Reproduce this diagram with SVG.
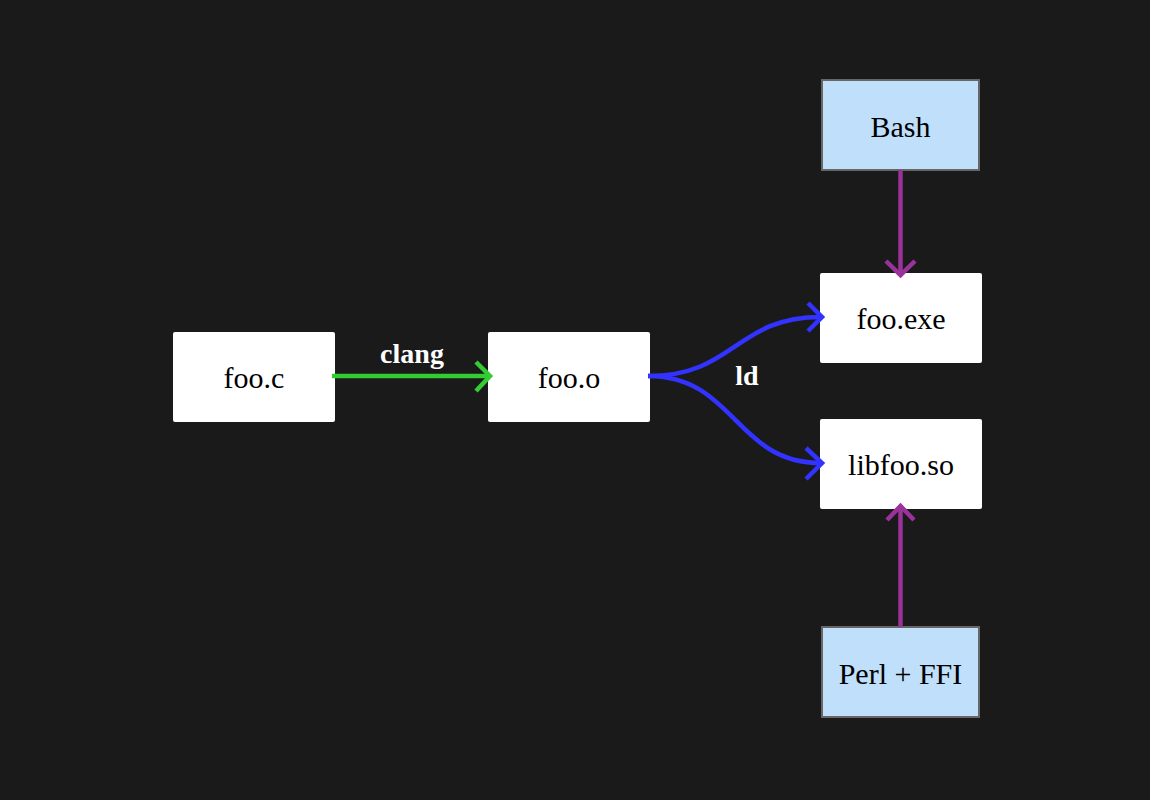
<svg xmlns="http://www.w3.org/2000/svg" width="1150" height="800" viewBox="0 0 1150 800">
<style>
.node{fill:#ffffff}
.ext{fill:#bfdffb;stroke:#666666;stroke-width:2}
.lbl{font-family:"Liberation Serif","DejaVu Serif",serif;font-size:30px;fill:#000;text-anchor:middle;dominant-baseline:central}
.elbl{font-family:"Liberation Serif","DejaVu Serif",serif;font-size:28px;font-weight:bold;fill:#ffffff;text-anchor:middle;dominant-baseline:central}
.e{fill:none;stroke-width:4.5}
.head{fill:none;stroke-width:4.5;stroke-linecap:butt;stroke-linejoin:miter}
</style>
<rect width="1150" height="800" fill="#1a1a1a"/>
<g id="foo_c"><rect class="node" x="173" y="332" width="162" height="90" rx="2"/><text class="lbl" x="254" y="377">foo.c</text></g>
<g id="foo_o"><rect class="node" x="488" y="332" width="162" height="90" rx="2"/><text class="lbl" x="569" y="377">foo.o</text></g>
<g id="foo_exe"><rect class="node" x="820" y="273" width="162" height="90" rx="2"/><text class="lbl" x="901" y="318">foo.exe</text></g>
<g id="libfoo_so"><rect class="node" x="820" y="419" width="162" height="90" rx="2"/><text class="lbl" x="901" y="464">libfoo.so</text></g>
<g id="bash"><rect class="ext" x="822" y="80" width="157" height="90"/><text class="lbl" x="900.5" y="126">Bash</text></g>
<g id="perl"><rect class="ext" x="822" y="627" width="157" height="90"/><text class="lbl" x="900.5" y="673">Perl + FFI</text></g>
<g id="connectors">
<path class="e" stroke="#33cc33" d="M332,376 H490"/>
<path class="head" stroke="#33cc33" d="M476,362 L490,376 L476,391"/>
<text class="elbl" x="412" y="353">clang</text>
<path class="e" stroke="#3333ff" d="M648,376 C735,376 735,317 821,317"/>
<path class="head" stroke="#3333ff" d="M808,303 L822,317 L808,331"/>
<path class="e" stroke="#3333ff" d="M648,376 C735,376 735,463 821,463"/>
<path class="head" stroke="#3333ff" d="M806,448 L822,463 L806,479"/>
<text class="elbl" x="747" y="375">ld</text>
<path class="e" stroke="#993399" d="M900.5,170 V274"/>
<path class="head" stroke="#993399" d="M886,261 L900.5,275 L915,261"/>
<path class="e" stroke="#993399" d="M900.5,627 V507"/>
<path class="head" stroke="#993399" d="M887,520 L900.5,506 L914,520"/>
</g>
</svg>
